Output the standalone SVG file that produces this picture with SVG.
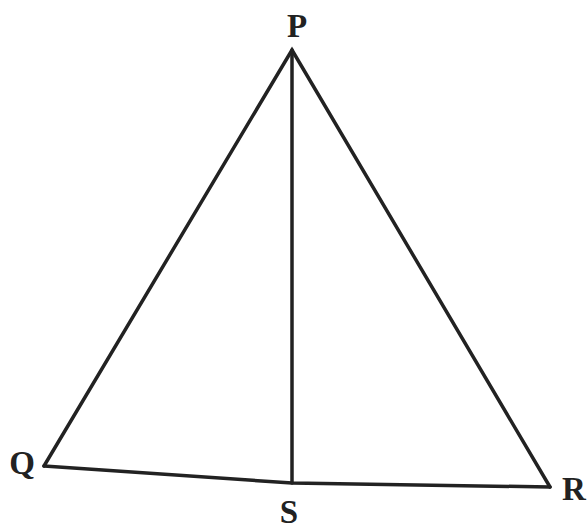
<svg xmlns="http://www.w3.org/2000/svg" width="588" height="531" viewBox="0 0 588 531">
<style>
.edge{fill:none;stroke:#222;stroke-width:3.5;stroke-linejoin:miter;stroke-linecap:round}
.lbl{font-family:"Liberation Serif","Times New Roman",serif;font-weight:bold;font-size:33px;fill:#222;text-anchor:middle}
</style>
<rect width="588" height="531" fill="#fff"/>
<g id="connectors">
<path class="edge" d="M44,466 L292,50 L550,487"/>
<path class="edge" d="M44,466 L292,483 L550,487"/>
<path class="edge" d="M292,50 L292,483"/>
</g>
<g id="P"><text class="lbl" x="297" y="37">P</text></g>
<g id="Q"><text class="lbl" x="22" y="474">Q</text></g>
<g id="R"><text class="lbl" x="574" y="500">R</text></g>
<g id="S"><text class="lbl" x="289" y="523">S</text></g>
</svg>
